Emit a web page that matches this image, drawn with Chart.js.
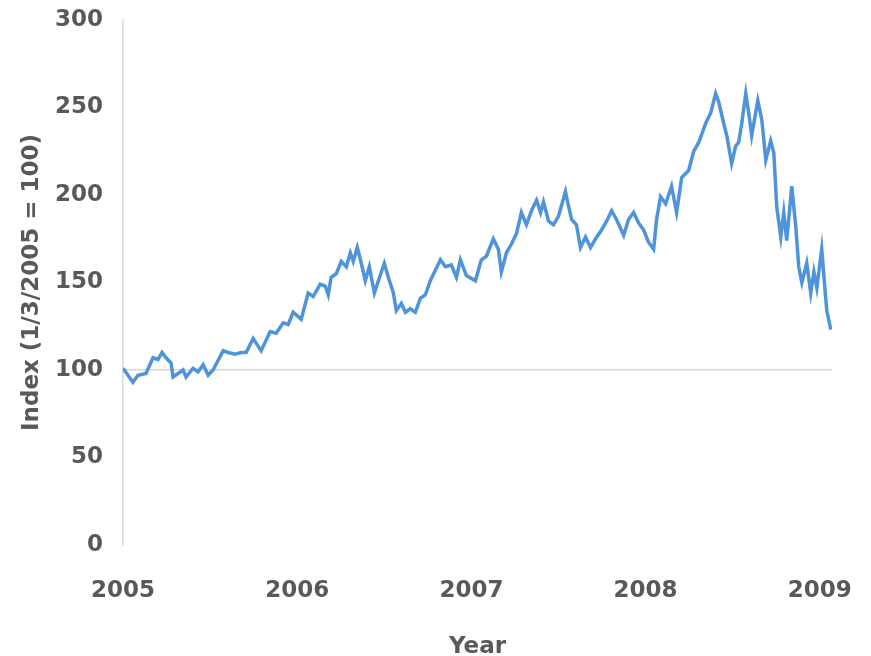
<!DOCTYPE html>
<html>
<head>
<meta charset="utf-8">
<script src="https://cdn.jsdelivr.net/npm/chart.js@4.4.1/dist/chart.umd.min.js"></script>
<style>
  html, body { margin: 0; padding: 0; background: #fff; }
  #wrap { width: 871px; height: 656px; position: relative; }
</style>
</head>
<body>
<div id="wrap"><canvas id="indexChart"></canvas></div>
<script>
// decimal years
const dates = [
  2005.000, 2005.057, 2005.086, 2005.132, 2005.172, 2005.201, 2005.224, 2005.247,
  2005.276, 2005.287, 2005.316, 2005.345, 2005.362, 2005.402, 2005.431, 2005.460,
  2005.489, 2005.517, 2005.575, 2005.603, 2005.644, 2005.678, 2005.707, 2005.747,
  2005.793, 2005.845, 2005.879, 2005.920, 2005.948, 2005.977, 2006.023, 2006.063,
  2006.092, 2006.132, 2006.161, 2006.178, 2006.195, 2006.224, 2006.253, 2006.282,
  2006.305, 2006.322, 2006.345, 2006.368, 2006.391, 2006.414, 2006.443, 2006.466,
  2006.500, 2006.523, 2006.552, 2006.569, 2006.598, 2006.621, 2006.649, 2006.678,
  2006.707, 2006.736, 2006.764, 2006.793, 2006.822, 2006.851, 2006.885, 2006.914,
  2006.937, 2006.971, 2007.023, 2007.057, 2007.086, 2007.126, 2007.155, 2007.172,
  2007.201, 2007.230, 2007.259, 2007.287, 2007.316, 2007.345, 2007.374, 2007.397,
  2007.414, 2007.443, 2007.471, 2007.500, 2007.540, 2007.557, 2007.575, 2007.603,
  2007.626, 2007.655, 2007.684, 2007.713, 2007.747, 2007.776, 2007.805, 2007.833,
  2007.874, 2007.902, 2007.931, 2007.960, 2007.989, 2008.017, 2008.046, 2008.063,
  2008.086, 2008.115, 2008.149, 2008.178, 2008.207, 2008.247, 2008.276, 2008.305,
  2008.345, 2008.374, 2008.402, 2008.420, 2008.448, 2008.466, 2008.494, 2008.517,
  2008.534, 2008.552, 2008.575, 2008.592, 2008.609, 2008.644, 2008.667, 2008.690,
  2008.718, 2008.736, 2008.753, 2008.776, 2008.793, 2008.810, 2008.839, 2008.862,
  2008.879, 2008.897, 2008.925, 2008.948, 2008.966, 2008.983, 2009.011, 2009.029,
  2009.040, 2009.063
];

const indexValues = [
  101, 93, 97, 98, 107, 106, 110, 107,
  104, 96, 98, 100, 96, 101, 99, 103,
  97, 100, 111, 110, 109, 110, 110, 118,
  111, 122, 121, 127, 126, 133, 129, 144,
  142, 149, 148, 143, 153, 155, 162, 159,
  167, 162, 170, 161, 151, 159, 144, 151,
  161, 153, 144, 134, 138, 133, 135, 133,
  141, 143, 151, 157, 163, 159, 160, 153,
  163, 154, 151, 163, 165, 175, 169, 156,
  167, 172, 178, 190, 183, 191, 197, 190,
  196, 185, 183, 188, 202, 194, 186, 183,
  170, 176, 170, 175, 180, 185, 191, 186,
  177, 186, 190, 184, 180, 173, 169, 186,
  199, 195, 205, 190, 210, 214, 225, 230,
  241, 247, 258, 253, 241, 234, 218, 228,
  230, 241, 258, 247, 234, 254, 243, 220,
  231, 224, 193, 176, 190, 174, 205, 182,
  159, 150, 161, 144, 156, 147, 169, 147,
  134, 123
];

const yearTicks = [2005, 2006, 2007, 2008, 2009];
const indexTicks = [0, 50, 100, 150, 200, 250, 300];

const textColor = '#595959';
const lineColor = '#4f94da';
const axisGray = '#d9d9d9';
const font = 'DejaVu Sans';

const points = dates.map((d, i) => ({ x: d, y: indexValues[i] }));

new Chart(document.getElementById('indexChart'), {
  type: 'line',
  data: {
    datasets: [{
      data: points,
      borderColor: lineColor,
      borderWidth: 3.5,
      pointRadius: 0,
      tension: 0,
      fill: false
    }]
  },
  options: {
    responsive: true,
    maintainAspectRatio: false,
    animation: false,
    layout: { padding: { top: 20, right: 39, bottom: 0, left: 8 } },
    plugins: {
      legend: { display: false },
      tooltip: { enabled: false }
    },
    scales: {
      x: {
        type: 'linear',
        min: 2005,
        max: 2009.07,
        afterBuildTicks: (scale) => {
          scale.ticks = yearTicks.map(v => ({ value: v }));
        },
        afterFit: (scale) => {
          scale.height = 111;
          scale.paddingLeft = 0;
          scale.paddingRight = 0;
        },
        grid: { display: false, drawTicks: false },
        border: { display: false },
        ticks: {
          padding: 32,
          color: textColor,
          font: { family: font, size: 23, weight: 'bold' },
          callback: (v) => String(v)
        },
        title: {
          display: true,
          text: 'Year',
          color: textColor,
          font: { family: font, size: 23, weight: 'bold', lineHeight: 0.8 },
          padding: { top: 0, bottom: 0 }
        }
      },
      y: {
        min: 0,
        max: 300,
        afterBuildTicks: (scale) => {
          scale.ticks = indexTicks.map(v => ({ value: v }));
        },
        afterFit: (scale) => {
          scale.width = 115;
          scale.paddingTop = 0;
          scale.paddingBottom = 0;
        },
        grid: {
          drawTicks: false,
          lineWidth: 1.5,
          color: (ctx) => (ctx.tick && ctx.tick.value === 100 ? axisGray : 'rgba(0,0,0,0)')
        },
        border: { display: true, color: axisGray, width: 1.5 },
        ticks: {
          padding: 20,
          color: textColor,
          font: { family: font, size: 23, weight: 'bold' }
        },
        title: {
          display: true,
          text: 'Index (1/3/2005 = 100)',
          color: textColor,
          font: { family: font, size: 23, weight: 'bold' },
          padding: { top: 10, bottom: 8 }
        }
      }
    }
  }
});
</script>
</body>
</html>
